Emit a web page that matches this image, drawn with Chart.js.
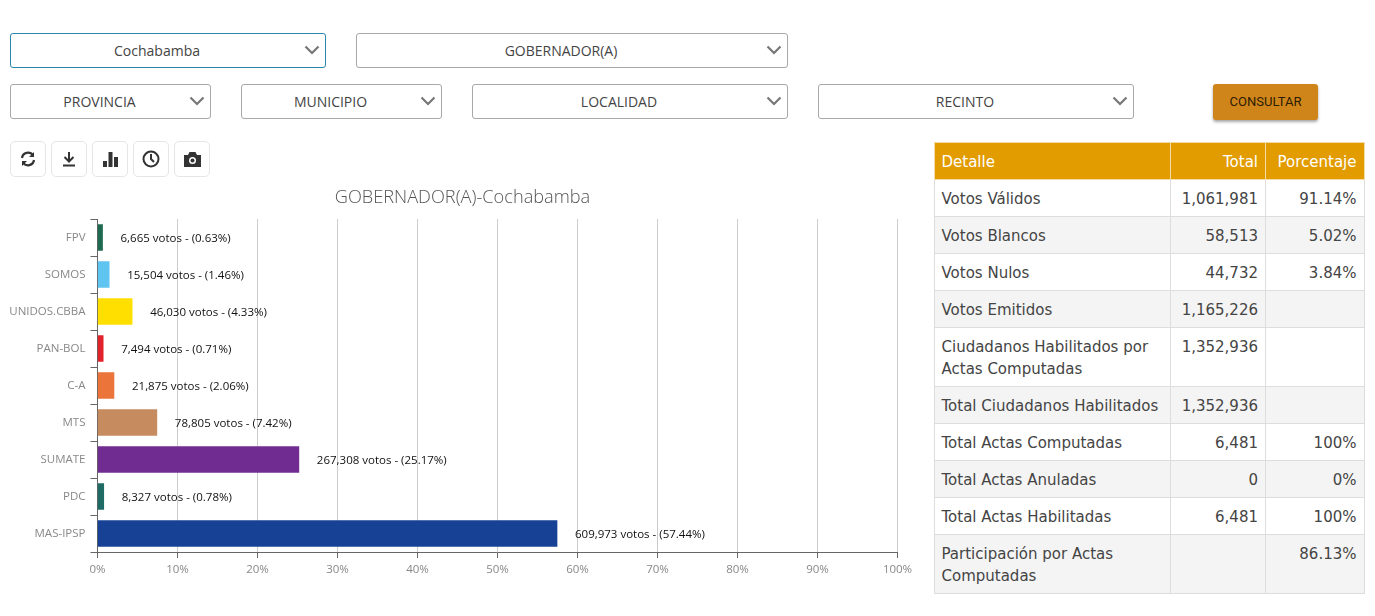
<!DOCTYPE html>
<html lang="es">
<head>
<meta charset="utf-8">
<title>GOBERNADOR(A)-Cochabamba</title>
<script src="https://cdn.jsdelivr.net/npm/chart.js@4"></script>
<style>
html, body { margin: 0; padding: 0; background: #fff; overflow: hidden; }
body { width: 1375px; height: 616px; position: relative; font-family: "Open Sans", sans-serif; }
.sel {
    position: absolute; box-sizing: border-box; height: 35px; border: 1px solid #a8a8a8; border-radius: 3px;
    background: #fff; color: #444; font-size: 14px; line-height: 33px; text-align: center; padding-right: 22px;
}
.sel.activo { border-color: #2a86ad; }
.sel svg { position: absolute; right: 5px; top: 11px; }
.btn-tool {
    position: absolute; top: 141px; width: 36px; height: 36px; box-sizing: border-box;
    border: 1px solid #e6e6e6; border-radius: 5px; background: #fff;
    display: flex; align-items: center; justify-content: center;
}
#consultar {
    position: absolute; left: 1213px; top: 84px; width: 105px; height: 36px; border-radius: 3px;
    background: #d0851a; color: #2b1c05; font: 13px/36px Roboto, sans-serif; text-align: center;
    box-shadow: 0 2px 3px rgba(0,0,0,.35);
}
#grafico { position: absolute; left: 0; top: 181px; }
#detalle {
    position: absolute; left: 933.500px; top: 142px; width: 430px; table-layout: fixed; border-collapse: collapse;
    font-family: "DejaVu Sans", sans-serif; font-size: 15px; line-height: 22px; color: #444;
}
#detalle th, #detalle td { border: 1px solid #ddd; padding: 8px 7px 6px; vertical-align: top; font-weight: normal; text-align: right; }
#detalle th:first-child, #detalle td:first-child { text-align: left; }
#detalle th { background: #e29c00; color: #fff; border-color: #f3dca6; }
#detalle tr:nth-child(even) td { background: #f4f4f4; }
</style>
</head>
<body>
<div id="selectores"></div>
<div id="consultar">CONSULTAR</div>

<div class="btn-tool" style="left:10px"><svg width="16" height="16" viewBox="0 0 16 16" fill="none" stroke="#333" stroke-width="2.2"><path d="M2 7a6 6 0 0 1 11-2.500M14 9a6 6 0 0 1-11 2.500"/><path d="M14 1v5h-5zM2 15v-5h5z" fill="#333" stroke="none"/></svg></div>
<div class="btn-tool" style="left:51px"><svg width="14" height="16" viewBox="0 0 14 16" fill="none" stroke="#333" stroke-width="2"><path d="M7 1v9M2.500 6l4.500 4.500L11.500 6M1 14.500h12"/></svg></div>
<div class="btn-tool" style="left:92px"><svg width="15" height="15" viewBox="0 0 15 15" fill="#333"><path d="M0 9h4v6H0zM5.500 0h4v15h-4zM11 5h4v10h-4z"/></svg></div>
<div class="btn-tool" style="left:133px"><svg width="18" height="18" viewBox="0 0 18 18" fill="none" stroke="#333" stroke-width="2"><circle cx="9" cy="9" r="7.500"/><path d="M9 4v5l3 3"/></svg></div>
<div class="btn-tool" style="left:174px"><svg width="17" height="15" viewBox="0 0 17 15"><path d="M0 3h4l1.500-3h6L13 3h4v12H0z" fill="#333"/><circle cx="8.500" cy="8.500" r="3.500" fill="#fff"/><circle cx="8.500" cy="8.500" r="2" fill="#333"/></svg></div>

<canvas id="grafico" width="925" height="410"></canvas>
<table id="detalle">
    <colgroup><col style="width:236.500px"><col style="width:95px"><col style="width:98.500px"></colgroup>
    <thead><tr id="cabecera"></tr></thead>
    <tbody id="filas"></tbody>
</table>

<script>
const partidos = ['FPV', 'SOMOS', 'UNIDOS.CBBA', 'PAN-BOL', 'C-A', 'MTS', 'SUMATE', 'PDC', 'MAS-IPSP'];
const votos = [6665, 15504, 46030, 7494, 21875, 78805, 267308, 8327, 609973];
const porcentajes = [0.63, 1.46, 4.33, 0.71, 2.06, 7.42, 25.17, 0.78, 57.44];
const colores = ['#1e6b52', '#5fc4f0', '#ffdf00', '#e1212b', '#ea743a', '#c68b5f', '#702c91', '#1f6b66', '#164194'];

const columnasDetalle = ['Detalle', 'Total', 'Porcentaje'];
const filasDetalle = ['Votos Válidos', 'Votos Blancos', 'Votos Nulos', 'Votos Emitidos', 'Ciudadanos Habilitados por Actas Computadas', 'Total Ciudadanos Habilitados', 'Total Actas Computadas', 'Total Actas Anuladas', 'Total Actas Habilitadas', 'Participación por Actas Computadas'];
const totalesDetalle = ['1,061,981', '58,513', '44,732', '1,165,226', '1,352,936', '1,352,936', '6,481', '0', '6,481', ''];
const porcentajesDetalle = ['91.14%', '5.02%', '3.84%', '', '', '', '100%', '0%', '100%', '86.13%'];

// selectores de arriba: texto, x, y, ancho
const selectores = [
    ['Cochabamba', 10, 33, 316, true],
    ['GOBERNADOR(A)', 356, 33, 432],
    ['PROVINCIA', 10, 84, 201],
    ['MUNICIPIO', 241, 84, 201],
    ['LOCALIDAD', 472, 84, 316],
    ['RECINTO', 818, 84, 316]
];
const chevron = '<svg width="16" height="10" viewBox="0 0 16 10" fill="none" stroke="#777" stroke-width="2.2"><path d="M1.500 1.500L8 8l6.500-6.500"/></svg>';
document.getElementById('selectores').innerHTML = selectores.map(s =>
    `<div class="sel${s[4] ? ' activo' : ''}" style="left:${s[1]}px;top:${s[2]}px;width:${s[3]}px">${s[0]}${chevron}</div>`
).join('');

document.getElementById('cabecera').innerHTML = columnasDetalle.map(c => `<th>${c}</th>`).join('');
document.getElementById('filas').innerHTML = filasDetalle.map((f, i) =>
    `<tr><td>${f}</td><td>${totalesDetalle[i]}</td><td>${porcentajesDetalle[i]}</td></tr>`
).join('');

// etiqueta al lado de cada barra
const etiquetasBarras = {
    id: 'etiquetasBarras',
    afterDatasetsDraw(chart) {
        const ctx = chart.ctx;
        ctx.save();
        ctx.font = '11.500px "Open Sans"';
        ctx.fillStyle = '#111';
        ctx.textBaseline = 'middle';
        chart.getDatasetMeta(0).data.forEach((barra, i) => {
            const texto = votos[i].toLocaleString('en-US') + ' votos - (' + porcentajes[i].toFixed(2) + '%)';
            ctx.fillText(texto, barra.x + 18, barra.y + 1);
        });
        ctx.restore();
    }
};

new Chart(document.getElementById('grafico'), {
    type: 'bar',
    data: {
        labels: partidos,
        datasets: [{
            data: porcentajes,
            backgroundColor: colores,
            barThickness: 26
        }]
    },
    options: {
        indexAxis: 'y',
        responsive: false,
        animation: false,
        layout: { padding: { bottom: 9 } },
        plugins: {
            legend: { display: false },
            tooltip: { enabled: false },
            title: {
                display: true,
                text: 'GOBERNADOR(A)-Cochabamba',
                color: '#555',
                font: { family: '"Open Sans"', size: 18.200, weight: '300', lineHeight: 1.2 },
                padding: { top: 6, bottom: 10.200 }
            }
        },
        scales: {
            x: {
                min: 0,
                max: 100,
                ticks: { stepSize: 10, maxRotation: 0, color: '#888', padding: 5, font: { family: '"Open Sans"', size: 11.500 }, callback: v => v + '%' },
                grid: { color: '#ccc', tickColor: '#666', tickLength: 6 },
                border: { color: '#666' },
                afterFit: scale => { scale.height = 30; scale.paddingRight = 27.500; }
            },
            y: {
                ticks: { color: '#888', padding: 5, font: { family: '"Open Sans"', size: 11.500 } },
                grid: { drawOnChartArea: false, tickColor: '#666', tickLength: 7 },
                border: { color: '#666' },
                afterFit: scale => { scale.width = 97.500; }
            }
        }
    },
    plugins: [etiquetasBarras]
});
</script>
</body>
</html>
